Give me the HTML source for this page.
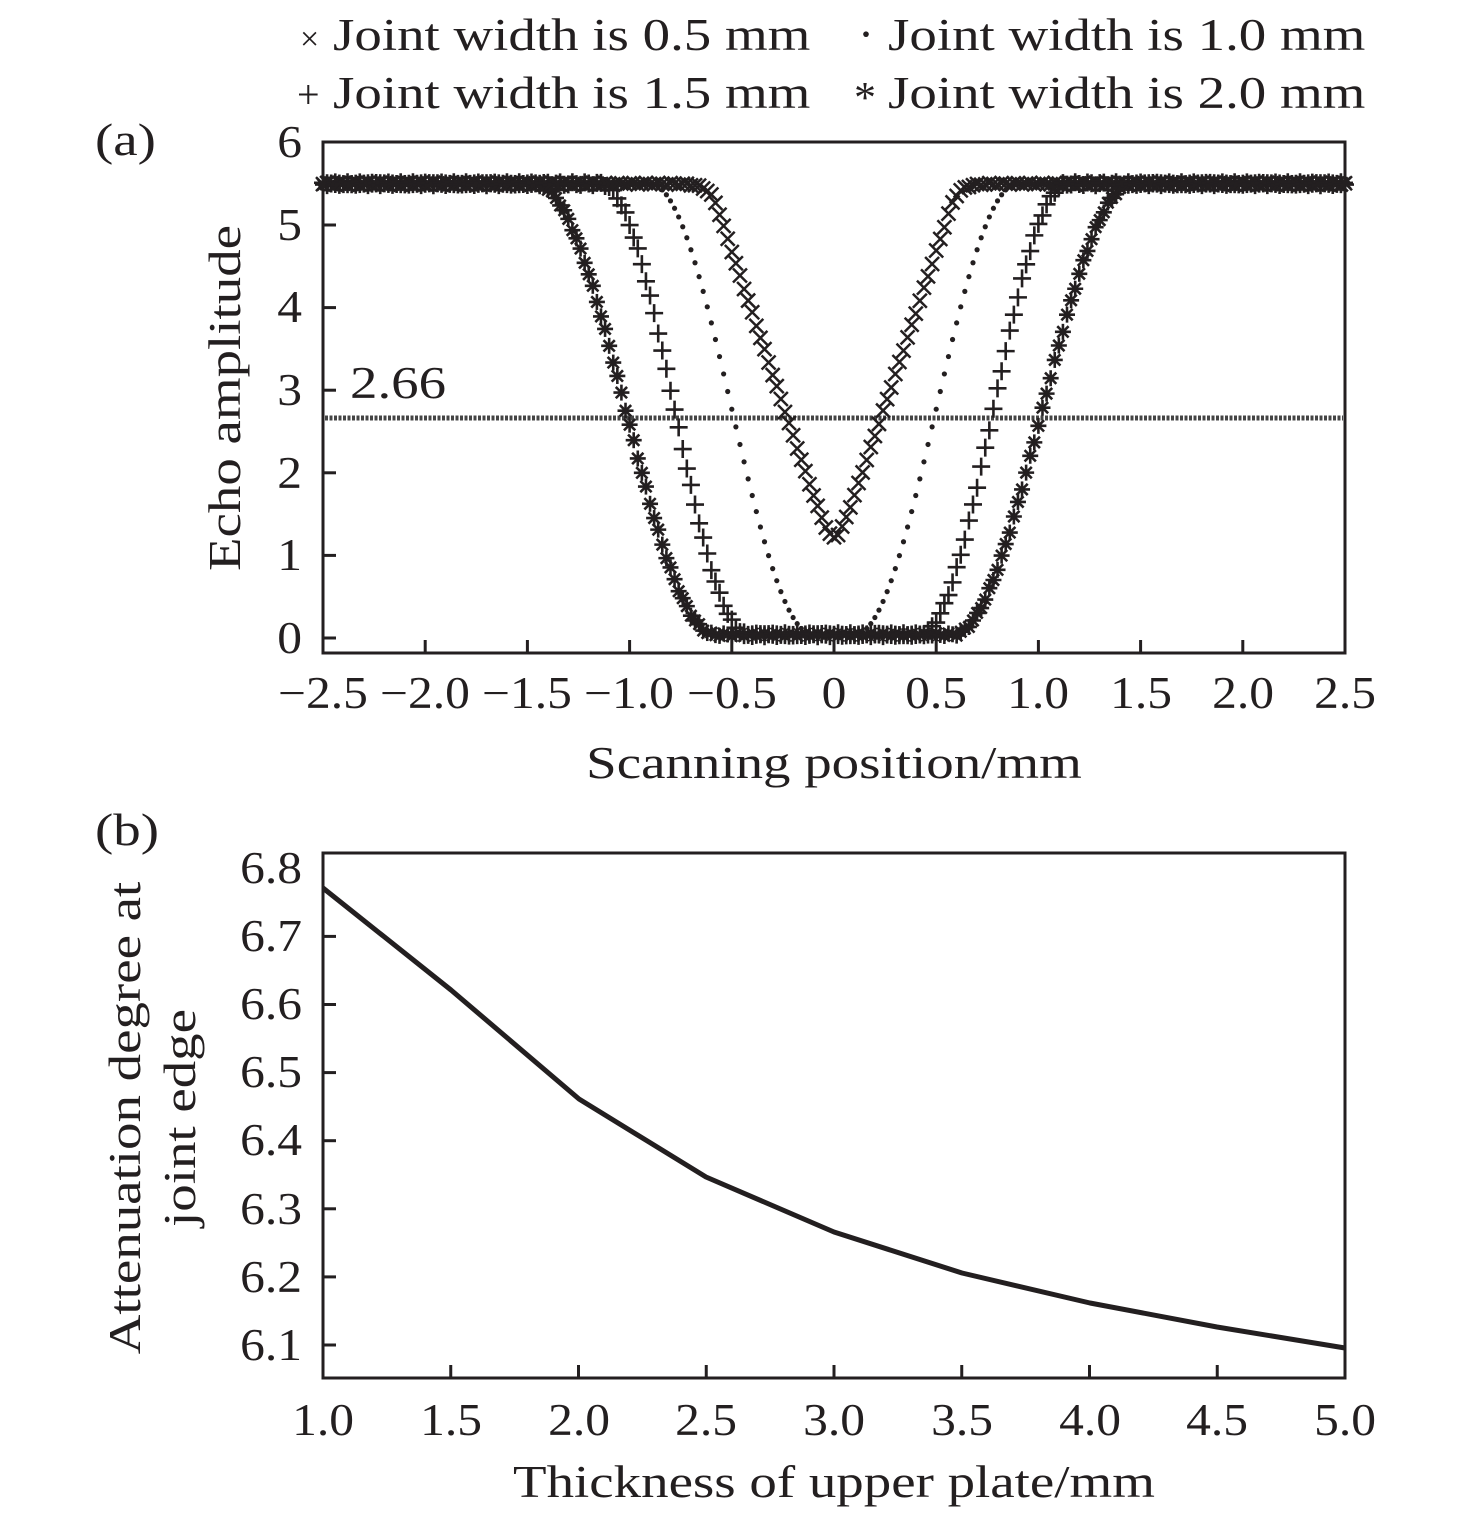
<!DOCTYPE html>
<html><head><meta charset="utf-8"><style>
body{margin:0;background:#fff}
svg{display:block}
text{font-family:"Liberation Serif",serif;fill:#231f20}
</style></head><body>
<svg id="s" width="1476" height="1526" xmlns="http://www.w3.org/2000/svg">
<g font-size="45">
<text class="m" x="300" y="50" font-size="34">×</text><text x="333" y="50">Joint width is 0.5 mm</text>
<text class="m" x="858" y="50" font-size="48">·</text><text x="888" y="50">Joint width is 1.0 mm</text>
<text class="m" x="297" y="108" font-size="40">+</text><text x="333" y="108">Joint width is 1.5 mm</text>
<text class="m" x="854" y="112" font-size="44">*</text><text x="888" y="108">Joint width is 2.0 mm</text>
<text x="95" y="155">(a)</text>
<text x="95" y="845">(b)</text>
<g text-anchor="end">
<text class="n" x="302" y="157">6</text><text class="n" x="302" y="240">5</text><text class="n" x="302" y="322">4</text><text class="n" x="302" y="405">3</text><text class="n" x="302" y="488">2</text><text class="n" x="302" y="570">1</text><text class="n" x="302" y="653">0</text>
</g>
<text x="350" y="398">2.66</text>
<g text-anchor="middle">
<text class="n" x="323" y="708">−2.5</text><text class="n" x="425" y="708">−2.0</text><text class="n" x="527" y="708">−1.5</text><text class="n" x="629" y="708">−1.0</text><text class="n" x="732" y="708">−0.5</text><text class="n" x="834" y="708">0</text><text class="n" x="936" y="708">0.5</text><text class="n" x="1038" y="708">1.0</text><text class="n" x="1141" y="708">1.5</text><text class="n" x="1243" y="708">2.0</text><text class="n" x="1345" y="708">2.5</text>
<text x="834" y="778">Scanning position/mm</text>
<text transform="translate(240,398) rotate(-90)">Echo amplitude</text>
<text class="n" x="323" y="1435">1.0</text><text class="n" x="451" y="1435">1.5</text><text class="n" x="579" y="1435">2.0</text><text class="n" x="706" y="1435">2.5</text><text class="n" x="834" y="1435">3.0</text><text class="n" x="962" y="1435">3.5</text><text class="n" x="1090" y="1435">4.0</text><text class="n" x="1217" y="1435">4.5</text><text class="n" x="1345" y="1435">5.0</text>
<text x="834" y="1497">Thickness of upper plate/mm</text>
<text transform="translate(140,1118) rotate(-90)">Attenuation degree at</text>
<text transform="translate(195,1118) rotate(-90)">joint edge</text>
</g>
<g text-anchor="end">
<text class="n" x="302" y="883">6.8</text><text class="n" x="302" y="951">6.7</text><text class="n" x="302" y="1019">6.6</text><text class="n" x="302" y="1087">6.5</text><text class="n" x="302" y="1155">6.4</text><text class="n" x="302" y="1224">6.3</text><text class="n" x="302" y="1292">6.2</text><text class="n" x="302" y="1360">6.1</text>
</g>
</g>
<line x1="325" y1="418" x2="1343" y2="418" stroke="#444" stroke-width="5" stroke-dasharray="3 1.5"/>
<g id="a"></g>
<rect x="323" y="142" width="1022" height="511" fill="none" stroke="#231f20" stroke-width="3"/>
<rect x="323" y="853" width="1022" height="525" fill="none" stroke="#231f20" stroke-width="3"/>
<g id="t" stroke="#231f20" stroke-width="3"></g>
<polyline fill="none" stroke="#231f20" stroke-width="5" stroke-linejoin="round" points="323,888 451,990 579,1099 706,1177 834,1232 962,1273 1090,1303 1217,1327 1345,1348"/>
</svg>
<script>
var ts=document.querySelectorAll('text');
for(var i=0;i<ts.length;i++){var c=ts[i].getAttribute('class');if(c=='m')continue;var L=ts[i].getComputedTextLength();ts[i].setAttribute('textLength',L*(c=='n'?1.1:1.22));ts[i].setAttribute('lengthAdjust','spacingAndGlyphs');}
var a=document.getElementById('a'),t=document.getElementById('t');
function X(x){return 834+x*204.4}function Y(y){return 638-y*82.6}
var th='';
for(var i=1;i<10;i++){var x=323+i*102.2;th+='<line x1="'+x+'" y1="653" x2="'+x+'" y2="640"/>';}
for(var i=0;i<6;i++){var y=638-i*82.6;th+='<line x1="323" y1="'+y+'" x2="336" y2="'+y+'"/>';}
for(var i=1;i<8;i++){var x=323+i*127.75;th+='<line x1="'+x+'" y1="1378" x2="'+x+'" y2="1365"/>';}
for(var i=1;i<8;i++){var y=1345-(i-1)*68.1;th+='<line x1="323" y1="'+y+'" x2="336" y2="'+y+'"/>';}
t.innerHTML=th;
function rc(x,x0,w){var u=Math.abs(x);if(u<=x0)return 0.04;if(u>=x0+w)return 5.5;return 0.04+5.46*(0.5-0.5*Math.cos(Math.PI*(u-x0)/w));}
function vx(x){var v=1.22+7.5*(Math.sqrt(x*x+0.0016)-0.04);if(v>5.2)v=5.5-0.3*Math.exp(-(v-5.2)/0.3);return Math.min(v,5.5);}
var s='';
for(var x=-2.5;x<=2.5001;x+=0.02){
 var px=X(x),py,j=(Math.sin(x*97)*1.5);
 py=Y(rc(x,0.58,0.88))+j;
 for(var k=0;k<4;k++){var an=k*Math.PI/4,dx=8*Math.cos(an),dy=8*Math.sin(an);s+='<line x1="'+(px-dx)+'" y1="'+(py-dy)+'" x2="'+(px+dx)+'" y2="'+(py+dy)+'" stroke="#231f20" stroke-width="2.6"/>';}
 py=Y(rc(x,0.42,0.72))-j;
 s+='<path d="M'+(px-9)+' '+py+'h18M'+px+' '+(py-9)+'v18" stroke="#231f20" stroke-width="2.6"/>';
 py=Y(rc(x,0.1,0.8));
 s+='<circle cx="'+px+'" cy="'+py+'" r="2.6" fill="#231f20"/>';
 py=Y(vx(x))+j*0.5;
 s+='<path d="M'+(px-7)+' '+(py-7)+'l14 14M'+(px+7)+' '+(py-7)+'l-14 14" stroke="#231f20" stroke-width="2.5"/>';
}
a.innerHTML=s;
</script>
</body></html>
